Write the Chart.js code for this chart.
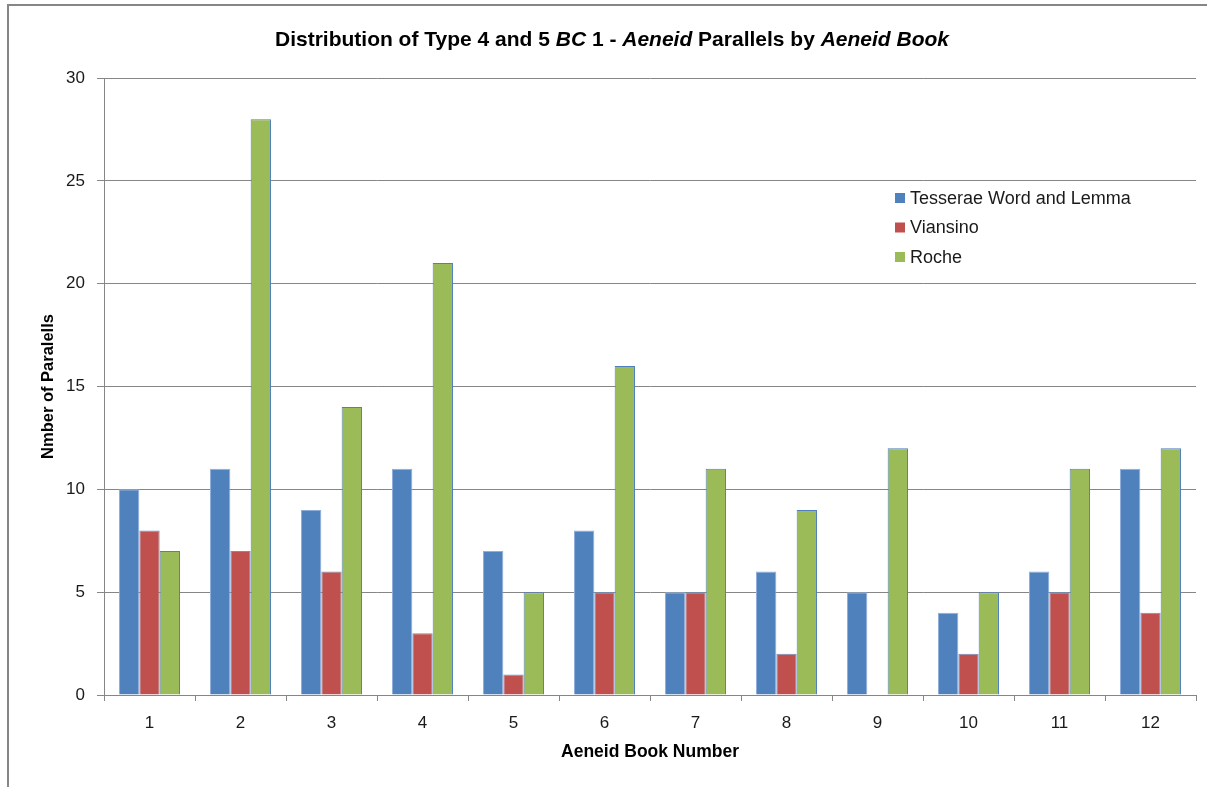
<!DOCTYPE html>
<html>
<head>
<meta charset="utf-8">
<title>Distribution of Type 4 and 5 BC 1 - Aeneid Parallels by Aeneid Book</title>
<script src="https://cdn.jsdelivr.net/npm/chart.js@4.4.1/dist/chart.umd.min.js"></script>
<style>
  html, body { margin: 0; padding: 0; background: #ffffff; }
  #wrap { width: 1207px; height: 787px; }
</style>
</head>
<body>
<div id="wrap"><canvas id="chart" width="1207" height="787"></canvas></div>
<script>
// Aeneid books on the x axis
const books = ['1', '2', '3', '4', '5', '6', '7', '8', '9', '10', '11', '12'];

// Parallel counts per book, one list per source
const tesseraeWordLemma = [10, 11, 9, 11, 7, 8, 5, 6, 5, 4, 6, 11];
const viansino = [8, 7, 6, 3, 1, 5, 5, 2, 0, 2, 5, 4];
const roche = [7, 28, 14, 21, 5, 16, 11, 9, 12, 5, 11, 12];

const seriesNames = ['Tesserae Word and Lemma', 'Viansino', 'Roche'];
const seriesColors = ['#4F81BD', '#C0504D', '#9BBB59'];
const seriesBorders = ['#8EAEDB', '#6E8FC4', '#4F7FBE'];

// Title pieces: [text, italic]
const titleParts = [
  ['Distribution of Type 4 and 5 ', false],
  ['BC', true],
  [' 1 - ', false],
  ['Aeneid', true],
  [' Parallels by ', false],
  ['Aeneid Book', true]
];

const axisGrey = '#868686';
const fontFamily = '"Liberation Sans", Arial, sans-serif';

// Outer frame (left and top edges) behind everything
const framePlugin = {
  id: 'frame',
  beforeDraw(chart) {
    const ctx = chart.ctx;
    ctx.save();
    ctx.strokeStyle = axisGrey;
    ctx.lineWidth = 2;
    ctx.beginPath();
    ctx.moveTo(8, 787);
    ctx.lineTo(8, 5);
    ctx.lineTo(1207, 5);
    ctx.stroke();
    ctx.restore();
  }
};

// Title with mixed upright / italic runs
const mixedTitlePlugin = {
  id: 'mixedTitle',
  afterDraw(chart) {
    const ctx = chart.ctx;
    const size = 21;
    const fontFor = (it) => (it ? 'italic ' : '') + 'bold ' + size + 'px ' + fontFamily;
    ctx.save();
    let total = 0;
    titleParts.forEach(([t, it]) => { ctx.font = fontFor(it); total += ctx.measureText(t).width; });
    let x = 612 - total / 2;
    const y = 40;
    ctx.fillStyle = '#000000';
    ctx.textBaseline = 'middle';
    ctx.textAlign = 'left';
    titleParts.forEach(([t, it]) => {
      ctx.font = fontFor(it);
      ctx.fillText(t, x, y);
      x += ctx.measureText(t).width;
    });
    ctx.restore();
  }
};

// Legend inside the plot, upper right
const insideLegendPlugin = {
  id: 'insideLegend',
  afterDraw(chart) {
    const ctx = chart.ctx;
    const x0 = 895, y0 = 198, rowGap = 29.5, box = 10;
    ctx.save();
    ctx.font = '18px ' + fontFamily;
    ctx.textBaseline = 'middle';
    ctx.textAlign = 'left';
    chart.data.datasets.forEach((ds, i) => {
      const y = y0 + i * rowGap;
      ctx.fillStyle = ds.backgroundColor;
      ctx.fillRect(x0, y - box / 2, box, box);
      ctx.fillStyle = '#1a1a1a';
      ctx.fillText(ds.label, x0 + 15, y + 1);
    });
    ctx.restore();
  }
};

const values = [tesseraeWordLemma, viansino, roche];

new Chart(document.getElementById('chart'), {
  type: 'bar',
  data: {
    labels: books,
    datasets: values.map((v, i) => ({
      label: seriesNames[i],
      data: v,
      backgroundColor: seriesColors[i],
      borderColor: seriesBorders[i],
      borderWidth: 1,
      borderSkipped: 'bottom',
      barPercentage: 1.0,
      categoryPercentage: 0.67
    }))
  },
  options: {
    responsive: false,
    animation: false,
    layout: { padding: { top: 78, right: 11, bottom: 0, left: 0 } },
    plugins: {
      legend: { display: false },
      title: { display: false },
      tooltip: { enabled: false }
    },
    scales: {
      x: {
        grid: {
          display: true,
          offset: true,
          drawOnChartArea: false,
          drawTicks: true,
          tickLength: 6,
          color: axisGrey
        },
        border: { display: true, color: axisGrey, width: 1 },
        ticks: {
          color: '#1a1a1a',
          font: { family: fontFamily, size: 17 },
          padding: 12,
          maxRotation: 0
        },
        title: {
          display: true,
          text: 'Aeneid Book Number',
          color: '#000000',
          font: { family: fontFamily, size: 17.5, weight: 'bold' },
          padding: { top: 0, bottom: 24 }
        },
        afterFit(scale) { scale.height = 92; }
      },
      y: {
        min: 0,
        max: 30,
        ticks: {
          stepSize: 5,
          color: '#1a1a1a',
          font: { family: fontFamily, size: 17 },
          padding: 12
        },
        grid: {
          color: axisGrey,
          lineWidth: 1,
          drawTicks: true,
          tickLength: 7
        },
        border: { display: true, color: axisGrey, width: 1 },
        title: {
          display: true,
          text: 'Nmber of Paralells',
          color: '#000000',
          font: { family: fontFamily, size: 16.5, weight: 'bold' },
          padding: { top: 39, bottom: 0 }
        },
        afterFit(scale) { scale.width = 104; }
      }
    }
  },
  plugins: [framePlugin, mixedTitlePlugin, insideLegendPlugin]
});
</script>
</body>
</html>
